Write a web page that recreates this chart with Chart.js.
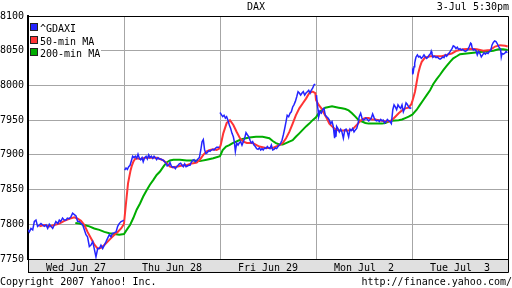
<!DOCTYPE html>
<html>
<head>
<meta charset="utf-8">
<script src="https://cdn.jsdelivr.net/npm/chart.js@4.4.1/dist/chart.umd.min.js"></script>
<style>
  html, body { margin: 0; padding: 0; background: #fff; }
  #wrap { width: 512px; height: 288px; }
</style>
</head>
<body>
<div id="wrap"><canvas id="dax-chart" width="512" height="288"></canvas></div>
<script>
// x = trading day index (0 = Wed Jun 27 open, 5 = Tue Jul 3 close)
const dayLabels = ["Wed Jun 27", "Thu Jun 28", "Fri Jun 29", "Mon Jul  2", "Tue Jul  3"];
const yTicks = [7750, 7800, 7850, 7900, 7950, 8000, 8050, 8100];

// ^GDAXI, null marks the overnight gap
const daxTimes = [
  0.000, 0.014, 0.031, 0.049, 0.066, 0.083, 0.100, 0.118, 0.135, 0.153, 0.170, 0.188, 0.205, 0.222, 0.240,
  0.257, 0.274, 0.290, 0.310, 0.326, 0.340, 0.360, 0.378, 0.396, 0.410, 0.430, 0.448, 0.465, 0.483, 0.500,
  0.517, 0.535, 0.552, 0.570, 0.587, 0.604, 0.620, 0.639, 0.656, 0.674, 0.690, 0.708, 0.726, 0.743, 0.760,
  0.778, 0.795, 0.813, 0.830, 0.847, 0.865, 0.880, 0.900, 0.917, 0.934, 0.950, 0.970, 0.986, 0.997, 1.000,
  1.007, 1.021, 1.035, 1.049, 1.063, 1.080, 1.090, 1.104, 1.118, 1.132, 1.146, 1.160, 1.174, 1.188, 1.200,
  1.215, 1.230, 1.243, 1.257, 1.270, 1.285, 1.300, 1.313, 1.326, 1.340, 1.354, 1.368, 1.382, 1.396, 1.410,
  1.424, 1.438, 1.450, 1.465, 1.479, 1.493, 1.507, 1.520, 1.535, 1.549, 1.563, 1.576, 1.590, 1.604, 1.618,
  1.632, 1.646, 1.660, 1.674, 1.688, 1.700, 1.715, 1.730, 1.743, 1.757, 1.770, 1.785, 1.800, 1.813, 1.826,
  1.840, 1.854, 1.868, 1.882, 1.896, 1.910, 1.924, 1.938, 1.950, 1.965, 1.980, 1.993, 1.997,
  2.000, 2.014, 2.028, 2.042, 2.056, 2.069, 2.083, 2.097, 2.111, 2.125, 2.139, 2.149, 2.160, 2.174, 2.188,
  2.200, 2.215, 2.229, 2.243, 2.257, 2.271, 2.285, 2.300, 2.313, 2.326, 2.340, 2.354, 2.368, 2.382, 2.396,
  2.410, 2.424, 2.438, 2.450, 2.465, 2.479, 2.493, 2.507, 2.520, 2.535, 2.549, 2.563, 2.576, 2.590, 2.604,
  2.618, 2.632, 2.646, 2.660, 2.674, 2.688, 2.700, 2.715, 2.730, 2.743, 2.757, 2.770, 2.785, 2.800, 2.813,
  2.826, 2.840, 2.854, 2.868, 2.882, 2.896, 2.910, 2.924, 2.938, 2.950, 2.965, 2.980, 2.993, 2.998,
  3.005, 3.014, 3.021, 3.028, 3.042, 3.056, 3.069, 3.083, 3.097, 3.111, 3.125, 3.139, 3.153, 3.167, 3.180,
  3.188, 3.194, 3.200, 3.208, 3.215, 3.229, 3.243, 3.257, 3.270, 3.285, 3.300, 3.313, 3.326, 3.340, 3.354,
  3.368, 3.382, 3.396, 3.410, 3.424, 3.438, 3.450, 3.465, 3.479, 3.493, 3.507, 3.520, 3.535, 3.549, 3.563,
  3.576, 3.590, 3.604, 3.618, 3.632, 3.646, 3.660, 3.674, 3.688, 3.700, 3.715, 3.730, 3.743, 3.757, 3.770,
  3.785, 3.800, 3.813, 3.826, 3.840, 3.854, 3.868, 3.882, 3.896, 3.910, 3.924, 3.938, 3.950, 3.965, 3.980,
  3.993, 3.998,
  4.000, 4.007, 4.014, 4.021, 4.028, 4.035, 4.042, 4.056, 4.069, 4.083, 4.097, 4.111, 4.125, 4.139, 4.153,
  4.167, 4.180, 4.194, 4.200, 4.208, 4.222, 4.236, 4.250, 4.264, 4.278, 4.292, 4.306, 4.320, 4.333, 4.347,
  4.361, 4.375, 4.389, 4.403, 4.417, 4.430, 4.444, 4.458, 4.472, 4.486, 4.500, 4.514, 4.528, 4.542, 4.556,
  4.569, 4.583, 4.597, 4.611, 4.618, 4.625, 4.639, 4.653, 4.667, 4.680, 4.694, 4.708, 4.722, 4.736, 4.750,
  4.764, 4.778, 4.792, 4.806, 4.820, 4.833, 4.847, 4.861, 4.875, 4.889, 4.903, 4.917, 4.924, 4.930, 4.938,
  4.950, 4.965, 4.980, 4.993
];
const daxValues = [
  7792, 7789, 7794, 7792, 7804, 7806, 7797, 7799, 7801, 7799, 7797, 7799, 7794, 7800, 7797,
  7794, 7799, 7804, 7801, 7806, 7804, 7809, 7806, 7806, 7809, 7808, 7811, 7816, 7814, 7812,
  7804, 7804, 7801, 7799, 7792, 7785, 7782, 7768, 7770, 7775, 7765, 7753, 7765, 7765, 7770,
  7765, 7770, 7775, 7780, 7785, 7782, 7787, 7788, 7789, 7797, 7801, 7804, 7805, 7806, null,
  7878, 7881, 7879, 7883, 7885, 7893, 7898, 7896, 7898, 7895, 7901, 7895, 7893, 7896, 7890,
  7896, 7898, 7894, 7900, 7896, 7898, 7895, 7898, 7896, 7893, 7896, 7894, 7894, 7893, 7892,
  7890, 7888, 7884, 7885, 7889, 7884, 7882, 7883, 7880, 7883, 7885, 7887, 7888, 7885, 7883,
  7887, 7883, 7884, 7885, 7885, 7889, 7892, 7893, 7890, 7892, 7894, 7896, 7907, 7919, 7922,
  7907, 7902, 7903, 7906, 7905, 7907, 7908, 7907, 7909, 7911, 7911, 7911, null,
  7961, 7958, 7955, 7957, 7953, 7955, 7950, 7943, 7938, 7931, 7926, 7919, 7905, 7917, 7914,
  7917, 7919, 7914, 7919, 7924, 7932, 7929, 7926, 7921, 7917, 7919, 7914, 7912, 7909, 7908,
  7910, 7907, 7909, 7907, 7910, 7909, 7912, 7910, 7909, 7914, 7907, 7908, 7910, 7909, 7912,
  7914, 7917, 7921, 7929, 7938, 7948, 7957, 7955, 7960, 7962, 7969, 7972, 7977, 7984, 7991,
  7989, 7986, 7989, 7991, 7986, 7989, 7991, 7993, 7989, 7993, 7996, 8001, 8002, null,
  7986, 7972, 7965, 7955, 7962, 7960, 7965, 7967, 7957, 7955, 7953, 7950, 7945, 7948, 7941,
  7931, 7924, 7936, 7926, 7941, 7938, 7933, 7937, 7933, 7924, 7936, 7937, 7933, 7926, 7937,
  7935, 7938, 7933, 7936, 7938, 7945, 7955, 7960, 7953, 7950, 7951, 7953, 7951, 7949, 7951,
  7953, 7959, 7954, 7950, 7949, 7950, 7948, 7951, 7949, 7950, 7946, 7948, 7951, 7949, 7948,
  7945, 7965, 7972, 7969, 7965, 7972, 7969, 7967, 7972, 7962, 7967, 7975, 7973, 7969, 7967,
  7968, null,
  8017, 8022, 8020, 8027, 8032, 8037, 8041, 8044, 8041, 8042, 8039, 8041, 8044, 8041, 8039,
  8041, 8044, 8046, 8049, 8045, 8041, 8042, 8040, 8041, 8039, 8038, 8039, 8041, 8040, 8044,
  8042, 8045, 8047, 8050, 8053, 8057, 8056, 8053, 8055, 8052, 8053, 8051, 8052, 8050, 8049,
  8050, 8052, 8056, 8061, 8060, 8055, 8051, 8052, 8050, 8044, 8049, 8046, 8041, 8044, 8047,
  8045, 8047, 8046, 8049, 8050, 8058, 8062, 8064, 8063, 8060, 8056, 8053, 8050, 8041, 8046,
  8045, 8046, 8049, 8047
];

// 50-minute moving average
const ma50Times = [
  0.118, 0.170, 0.222, 0.274, 0.326, 0.378, 0.430, 0.483, 0.517, 0.552, 0.587, 0.620, 0.656, 0.690, 0.726,
  0.760, 0.795, 0.830, 0.865, 0.900, 0.934, 0.970, 0.993,
  1.000, 1.014, 1.028, 1.042, 1.056, 1.069, 1.083, 1.097, 1.115, 1.132, 1.167, 1.200, 1.236, 1.270, 1.306,
  1.340, 1.375, 1.410, 1.444, 1.479, 1.514, 1.549, 1.583, 1.618, 1.653, 1.688, 1.722, 1.757, 1.790, 1.826,
  1.861, 1.896, 1.930, 1.965, 1.993,
  2.007, 2.034, 2.070, 2.104, 2.139, 2.174, 2.208, 2.243, 2.280, 2.340, 2.410, 2.479, 2.549, 2.618, 2.653,
  2.688, 2.722, 2.757, 2.790, 2.826, 2.861, 2.896, 2.930, 2.965, 2.993,
  3.000, 3.028, 3.056, 3.083, 3.111, 3.139, 3.167, 3.200, 3.236, 3.270, 3.306, 3.340, 3.375, 3.410, 3.444,
  3.479, 3.514, 3.549, 3.583, 3.618, 3.653, 3.688, 3.722, 3.757, 3.790, 3.826, 3.861, 3.896, 3.930, 3.965,
  3.993,
  4.003, 4.031, 4.049, 4.066, 4.083, 4.101, 4.135, 4.188, 4.240, 4.310, 4.361, 4.414, 4.466, 4.535, 4.604,
  4.674, 4.743, 4.813, 4.865, 4.917, 4.970, 4.997
];
const ma50Values = [
  7797, 7799, 7797, 7799, 7801, 7805, 7808, 7810, 7808, 7805, 7799, 7789, 7780, 7771, 7765,
  7766, 7770, 7775, 7780, 7785, 7789, 7794, 7799,
  7801, 7821, 7840, 7859, 7869, 7878, 7885, 7890, 7894, 7895, 7894, 7895, 7896, 7896, 7896,
  7896, 7894, 7892, 7888, 7883, 7882, 7883, 7884, 7885, 7885, 7887, 7888, 7889, 7893, 7900,
  7905, 7907, 7908, 7907, 7909,
  7914, 7931, 7946, 7950, 7943, 7933, 7924, 7919, 7917, 7917, 7912, 7910, 7910, 7914, 7917,
  7924, 7933, 7945, 7957, 7967, 7974, 7981, 7989, 7991, 7989,
  7979, 7972, 7967, 7960, 7953, 7945, 7941, 7937, 7935, 7935, 7935, 7935, 7936, 7941, 7946,
  7951, 7953, 7953, 7951, 7951, 7950, 7949, 7948, 7948, 7950, 7955, 7960, 7964, 7967, 7968,
  7973,
  7977, 7991, 8005, 8018, 8027, 8034, 8040, 8042, 8042, 8042, 8044, 8046, 8050, 8052, 8053,
  8052, 8050, 8051, 8056, 8058, 8057, 8056
];

// 200-minute moving average
const ma200Times = [
  0.493, 0.535, 0.587, 0.639, 0.690, 0.743, 0.795, 0.847, 0.900, 0.950,
  1.000, 1.028, 1.063, 1.097, 1.132, 1.167, 1.200, 1.236, 1.270, 1.306, 1.340, 1.375, 1.410, 1.444, 1.479,
  1.514, 1.583, 1.653, 1.722, 1.790, 1.861, 1.930,
  2.000, 2.028, 2.063, 2.097, 2.132, 2.167, 2.200, 2.236, 2.270, 2.306, 2.375, 2.444, 2.479, 2.514, 2.549,
  2.583, 2.618, 2.653, 2.688, 2.722, 2.757, 2.790, 2.826, 2.861, 2.896, 2.930, 2.965,
  3.000, 3.028, 3.063, 3.097, 3.132, 3.167, 3.200, 3.236, 3.270, 3.306, 3.340, 3.375, 3.410, 3.444, 3.479,
  3.514, 3.549, 3.618, 3.688, 3.722, 3.757, 3.790, 3.861, 3.896, 3.930, 3.965,
  4.003, 4.049, 4.083, 4.118, 4.153, 4.188, 4.222, 4.257, 4.290, 4.326, 4.361, 4.396, 4.430, 4.466, 4.500,
  4.570, 4.640, 4.708, 4.778, 4.847, 4.900, 4.950, 4.997
];
const ma200Values = [
  7802, 7801, 7799, 7797, 7794, 7792, 7789, 7787, 7786, 7785,
  7786, 7792, 7799, 7809, 7821, 7830, 7840, 7849, 7857, 7864, 7871, 7876, 7883, 7889, 7892,
  7893, 7893, 7892, 7892, 7891, 7893, 7895,
  7898, 7907, 7912, 7914, 7917, 7919, 7921, 7923, 7924, 7925, 7926, 7926, 7925, 7924, 7920,
  7917, 7915, 7915, 7917, 7919, 7921, 7926, 7931, 7936, 7941, 7945, 7950,
  7954, 7960, 7965, 7968, 7969, 7970, 7969, 7968, 7967, 7966, 7964, 7960, 7955, 7950, 7948,
  7946, 7945, 7945, 7945, 7946, 7948, 7949, 7950, 7951, 7953, 7955,
  7958, 7965, 7972, 7979, 7986, 7993, 8002, 8009, 8015, 8022, 8028, 8034, 8039, 8042, 8045,
  8046, 8047, 8048, 8049, 8050, 8052, 8052, 8051
];

const toPoints = (xs, ys) => xs.map((x, i) => ({ x: x, y: ys[i] }));

const FONT = "DejaVu Sans Mono";
const BLUE = "#2424ff";
const RED = "#ff3434";
const GREEN = "#00ad00";
const GRID = "#a6a6a6";

// frame, date band, legend and the texts around the plot
const yahooFrame = {
  id: "yahooFrame",
  beforeDraw(chart) {
    const ctx = chart.ctx;
    const a = chart.chartArea;
    ctx.save();
    ctx.fillStyle = "#fff";
    ctx.fillRect(0, 0, chart.width, chart.height);
    ctx.fillStyle = "#e0e0e0";
    ctx.fillRect(a.left, a.bottom, a.right - a.left, 13);
    ctx.restore();
  },
  afterDatasetsDraw(chart) {
    const ctx = chart.ctx;
    const a = chart.chartArea;
    ctx.save();
    // legend
    ctx.fillStyle = "#fff";
    ctx.fillRect(a.left + 1, a.top + 1, 72, 42);
    const items = [["^GDAXI", BLUE], ["50-min MA", RED], ["200-min MA", GREEN]];
    ctx.font = "10px '" + FONT + "'";
    ctx.textBaseline = "alphabetic";
    ctx.textAlign = "left";
    items.forEach((it, i) => {
      const y = 24 + i * 12.5;
      ctx.fillStyle = it[1];
      ctx.fillRect(31, Math.round(y), 6, 6);
      ctx.strokeStyle = "#222";
      ctx.lineWidth = 1;
      ctx.strokeRect(30.5, Math.round(y) - 0.5, 7, 7);
      ctx.fillStyle = "#000";
      ctx.fillText(it[0], 40, Math.round(y) + 8);
    });
    ctx.restore();
  },
  afterDraw(chart) {
    const ctx = chart.ctx;
    const a = chart.chartArea;
    ctx.save();
    ctx.strokeStyle = "#000";
    ctx.lineWidth = 1;
    ctx.beginPath();
    ctx.moveTo(a.left, a.top + 0.5);
    ctx.lineTo(a.right + 0.5, a.top + 0.5);
    ctx.lineTo(a.right + 0.5, a.bottom + 13.5);
    ctx.lineTo(a.left, a.bottom + 13.5);
    ctx.moveTo(a.left + 0.5, a.bottom);
    ctx.lineTo(a.left + 0.5, a.bottom + 13.5);
    ctx.stroke();
    ctx.fillStyle = "#000";
    ctx.font = "10px '" + FONT + "'";
    ctx.textBaseline = "middle";
    ctx.textAlign = "center";
    ctx.fillText("DAX", 256, 7);
    ctx.textAlign = "right";
    ctx.fillText("3-Jul 5:30pm", 509, 7);
    ctx.fillText("http://finance.yahoo.com/", 512, 282);
    ctx.textAlign = "left";
    ctx.fillText("Copyright 2007 Yahoo! Inc.", 0, 282);
    ctx.restore();
  }
};

const ctxDax = document.querySelector("#dax-chart").getContext("2d");

const daxChart = new Chart(ctxDax, {
  type: "line",
  data: {
    datasets: [
      {
        label: "^GDAXI",
        data: toPoints(daxTimes, daxValues),
        borderColor: BLUE,
        borderWidth: 1.5,
        pointRadius: 0,
        spanGaps: false,
        tension: 0
      },
      {
        label: "50-min MA",
        data: toPoints(ma50Times, ma50Values),
        borderColor: RED,
        borderWidth: 2,
        pointRadius: 0,
        tension: 0
      },
      {
        label: "200-min MA",
        data: toPoints(ma200Times, ma200Values),
        borderColor: GREEN,
        borderWidth: 2,
        pointRadius: 0,
        tension: 0
      }
    ]
  },
  options: {
    responsive: false,
    animation: false,
    events: [],
    layout: { padding: { top: 16, right: 4, left: 0, bottom: 0 } },
    plugins: {
      legend: { display: false },
      title: { display: false },
      tooltip: { enabled: false }
    },
    scales: {
      x: {
        type: "linear",
        min: 0,
        max: 5,
        afterBuildTicks(scale) {
          const t = [];
          for (let i = 0; i <= 10; i++) t.push({ value: i / 2 });
          scale.ticks = t;
        },
        afterFit(scale) { scale.height = 29; },
        grid: {
          color: (c) => (c.tick && Number.isInteger(c.tick.value) ? GRID : "rgba(0,0,0,0)"),
          lineWidth: 1,
          drawTicks: false
        },
        border: { color: "#000", width: 1 },
        ticks: {
          autoSkip: false,
          maxRotation: 0,
          padding: 3,
          color: "#000",
          font: { family: FONT, size: 10 },
          callback: (v) => (Number.isInteger(v) ? "" : dayLabels[Math.floor(v)])
        }
      },
      y: {
        min: 7750,
        max: 8100,
        afterBuildTicks(scale) { scale.ticks = yTicks.map((v) => ({ value: v })); },
        afterFit(scale) { scale.width = 28; },
        grid: { color: GRID, lineWidth: 1, drawTicks: false },
        border: { color: "#000", width: 2 },
        ticks: {
          padding: 4,
          color: "#000",
          font: { family: FONT, size: 10 },
          callback: (v) => String(v)
        }
      }
    }
  },
  plugins: [yahooFrame]
});
</script>
</body>
</html>
